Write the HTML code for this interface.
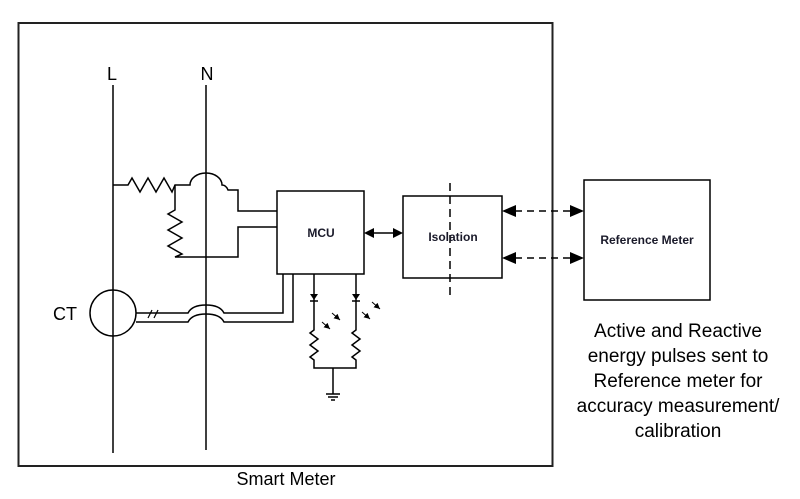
<!DOCTYPE html>
<html><head><meta charset="utf-8"><style>
html,body{margin:0;padding:0;background:#fff;}
svg{display:block;}
text{font-family:"Liberation Sans",Arial,sans-serif;}
</style></head><body>
<svg width="800" height="499" viewBox="0 0 800 499" xmlns="http://www.w3.org/2000/svg">
<defs>
<marker id="ah" markerWidth="10" markerHeight="8" refX="10" refY="4" orient="auto" markerUnits="userSpaceOnUse"><path d="M0,0 L10,4 L0,8 Z" fill="#000"/></marker>
<marker id="as" markerWidth="6" markerHeight="6" refX="6" refY="3" orient="auto" markerUnits="userSpaceOnUse"><path d="M0,0 L6,3 L0,6 Z" fill="#000"/></marker>
</defs>
<g fill="none" stroke="#000" stroke-width="1.5">
<!-- outer box -->
<rect x="18.5" y="23" width="534" height="443" stroke="#222" stroke-width="2"/>
<!-- L and N -->
<line x1="113" y1="85" x2="113" y2="453"/>
<line x1="206" y1="85" x2="206" y2="450"/>
<!-- top resistor -->
<path d="M113,185 L128,185 L132,178 L140,192 L148,178 L156,192 L164,178 L172,192 L175,185 L190,185 A16,12 0 0 1 222,185 Q226,185 228,190 L238,190 L238,211 L277,211"/>
<!-- vertical resistor -->
<path d="M175,185 L175,210 L168,214 L182,222 L168,230 L182,238 L168,246 L182,254 L175,257 L238,257 L238,227 L277,227"/>
<!-- MCU -->
<rect x="277" y="191" width="87" height="83"/>
<!-- CT -->
<circle cx="113" cy="313" r="23"/>
<path d="M136,313 L188,313 Q192,305 206,305 Q220,305 224,313 L283,313 L283,274"/>
<path d="M136,322 L188,322 Q192,314 206,314 Q220,314 224,322 L293,322 L293,274"/>
<line x1="148" y1="318" x2="152" y2="310" stroke-width="1.2"/>
<line x1="154" y1="318" x2="158" y2="310" stroke-width="1.2"/>
<!-- LEDs -->
<path d="M314,274 L314,330 L310,333 L318,339 L310,345 L318,351 L310,357 L314,360 L314,368 L356,368 L356,360 L352,357 L360,351 L352,345 L360,339 L352,333 L356,330 L356,274"/>
<line x1="333" y1="368" x2="333" y2="394"/>
<line x1="326" y1="394" x2="340" y2="394"/>
<line x1="328" y1="397" x2="338" y2="397"/>
<line x1="331" y1="400" x2="335" y2="400"/>
<line x1="322" y1="322" x2="330" y2="329" stroke-width="1" marker-end="url(#as)"/>
<line x1="332" y1="313" x2="340" y2="320" stroke-width="1" marker-end="url(#as)"/>
<line x1="362" y1="312" x2="370" y2="319" stroke-width="1" marker-end="url(#as)"/>
<line x1="372" y1="302" x2="380" y2="309" stroke-width="1" marker-end="url(#as)"/>
<!-- Isolation -->
<rect x="403" y="196" width="99" height="82"/>
<line x1="450" y1="183" x2="450" y2="295" stroke-dasharray="8,5"/>
<!-- MCU <-> Isolation -->
<line x1="372" y1="233" x2="395" y2="233"/>
<!-- Ref meter -->
<rect x="584" y="180" width="126" height="120"/>
<line x1="515" y1="211" x2="571" y2="211" stroke-dasharray="7,5"/>
<line x1="515" y1="258" x2="571" y2="258" stroke-dasharray="7,5"/>
</g>
<g fill="#000">
<path d="M364,233 L374,228 L374,238 Z"/>
<path d="M403,233 L393,228 L393,238 Z"/>
<path d="M502,211 L516,205 L516,217 Z"/>
<path d="M584,211 L570,205 L570,217 Z"/>
<path d="M502,258 L516,252 L516,264 Z"/>
<path d="M584,258 L570,252 L570,264 Z"/>
<path d="M310,294 L318,294 L314,300 Z"/>
<path d="M352,294 L360,294 L356,300 Z"/>
</g>
<g stroke="#000" stroke-width="1.5"><line x1="310" y1="301" x2="318" y2="301"/><line x1="352" y1="301" x2="360" y2="301"/></g>
<g font-size="18" fill="#000" text-anchor="middle">
<text x="112" y="80">L</text>
<text x="207" y="80">N</text>
<text x="65" y="320">CT</text>
<text x="286" y="485">Smart Meter</text>
</g>
<g font-size="12" font-weight="bold" fill="#1a1a2a" text-anchor="middle">
<text x="321" y="237">MCU</text>
<text x="453" y="241">Isolation</text>
<text x="647" y="244">Reference Meter</text>
</g>
<g font-size="19" fill="#000" text-anchor="middle">
<text x="678" y="337">Active and Reactive</text>
<text x="678" y="362">energy pulses sent to</text>
<text x="678" y="387">Reference meter for</text>
<text x="678" y="412">accuracy measurement/</text>
<text x="678" y="437">calibration</text>
</g>
</svg>
</body></html>
